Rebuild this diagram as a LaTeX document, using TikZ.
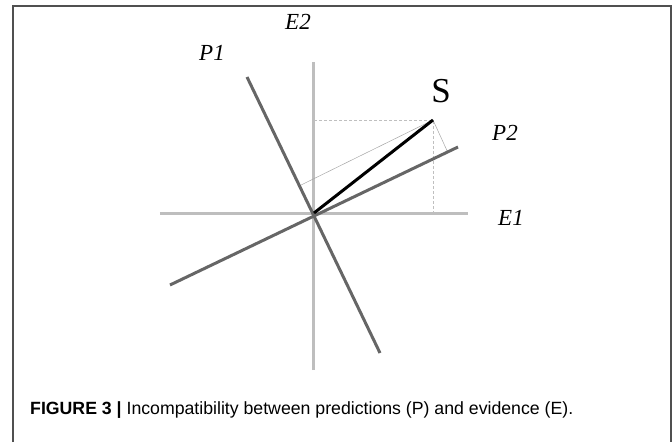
\documentclass[tikz,border=0pt]{standalone}
\usepackage{fontspec}
\setmainfont{Liberation Serif}
\setsansfont{Liberation Sans}
\usetikzlibrary{calc}
\definecolor{axisgray}{HTML}{BEBEBE}
\definecolor{predgray}{HTML}{666666}
\definecolor{framegray}{HTML}{505050}
\begin{document}
\begin{tikzpicture}[x=1pt,y=1pt,
		axis/.style={draw=axisgray,line width=3pt},
		pred/.style={draw=predgray,line width=3pt},
		state/.style={draw=black,line width=3pt},
		proj/.style={draw=gray!70,line width=0.5pt},
		guide/.style={draw=gray!50,line width=0.5pt,densely dashed},
		lab/.style={font=\fontsize{23}{26}\selectfont\itshape}]
		\useasboundingbox (-314,-229) rectangle (358,213);
		% frame
		\draw[framegray,line width=1.5pt] (-301,-229) -- (-301,207) -- (357,207) -- (357,-229);
		\coordinate (O) at (0,0);
		\coordinate (E1a) at (-154,0);
		\coordinate (E1b) at (154,0);
		\coordinate (E2a) at (0,-157);
		\coordinate (E2b) at (0,151);
		\coordinate (P1a) at (66,-140);
		\coordinate (P1b) at (-67,136);
		\coordinate (P2a) at (-144,-72);
		\coordinate (P2b) at (144,66);
		\coordinate (S) at (119,93);
		% evidence axes
		\path[axis] (E1a) -- (E1b);
		\path[axis] (E2a) -- (E2b);
		% guides and projections
		\path[guide] (O |- S) -- (S) -- (S |- O);
		\path[proj] (S) -- ($(O)!(S)!(P2b)$);
		\path[proj] (S) -- ($(O)!(S)!(P1b)$);
		% predictions
		\path[pred] (P1a) -- (P1b);
		\path[pred] (P2a) -- (P2b);
		% state
		\path[state] (O) -- (S);
		\path
		(-16,191) node[lab] (lE2) {E2}
		(-102,160) node[lab] (lP1) {P1}
		(191,80) node[lab] (lP2) {P2}
		(197,-5) node[lab] (lE1) {E1}
		(127,122) node[font=\fontsize{35}{38}\selectfont] (lS) {S}
		;
		\node[anchor=west,inner sep=0pt,font=\sffamily\fontsize{17.7}{20}\selectfont] (cap) at (-284,-197)
		{\textbf{FIGURE 3} \textbf{|} Incompatibility between predictions (P) and evidence (E).};
	\end{tikzpicture}
\end{document}
